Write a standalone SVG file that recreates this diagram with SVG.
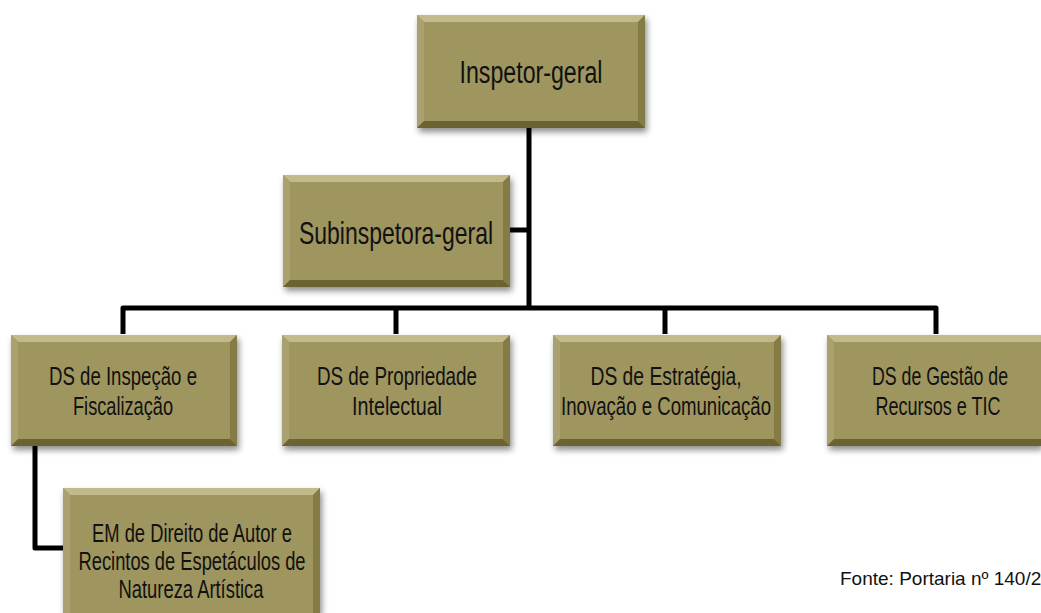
<svg xmlns="http://www.w3.org/2000/svg" width="1041" height="613" viewBox="0 0 1041 613">
<style>
.face{fill:#9e955f}
.bt{fill:#c2b98c}
.bl{fill:#aba170}
.br{fill:#857b45}
.bb{fill:#6c6333}
.lbl{font-family:"Liberation Sans",Arial,sans-serif;fill:#111;text-anchor:middle}
.conn{fill:none;stroke:#000;stroke-width:5;stroke-linejoin:round;stroke-linecap:butt}
</style>
<defs>
<filter id="sh" x="-10%" y="-10%" width="130%" height="140%">
<feDropShadow dx="2" dy="4" stdDeviation="3" flood-color="#000" flood-opacity="0.45"/>
</filter>
</defs>
<rect width="1041" height="613" fill="#fff"/>
<g id="connectors">
<path class="conn" d="M529 128V308" stroke-width="7"/>
<path class="conn" d="M510 230H529"/>
<path class="conn" d="M123 334V308H936V334"/>
<path class="conn" d="M396 308V334"/>
<path class="conn" d="M665 308V334"/>
<path class="conn" d="M35 446V548H63"/>
</g>
<g id="n-inspetor">
<g filter="url(#sh)">
<rect class="face" x="417" y="15" width="228" height="113"/>
<polygon class="bt" points="417,15 645,15 638,22 424,22"/>
<polygon class="bl" points="417,15 424,22 424,121 417,128"/>
<polygon class="br" points="645,15 645,128 638,121 638,22"/>
<polygon class="bb" points="417,128 645,128 638,121 424,121"/>
</g>
<text class="lbl" x="531" y="83" font-size="31" textLength="143" lengthAdjust="spacingAndGlyphs">Inspetor-geral</text>
</g>
<g id="n-subinspetora">
<g filter="url(#sh)">
<rect class="face" x="283" y="175" width="227" height="112"/>
<polygon class="bt" points="283,175 510,175 503,182 290,182"/>
<polygon class="bl" points="283,175 290,182 290,280 283,287"/>
<polygon class="br" points="510,175 510,287 503,280 503,182"/>
<polygon class="bb" points="283,287 510,287 503,280 290,280"/>
</g>
<text class="lbl" x="396" y="244" font-size="32" textLength="194" lengthAdjust="spacingAndGlyphs">Subinspetora-geral</text>
</g>
<g id="n-ds1">
<g filter="url(#sh)">
<rect class="face" x="11" y="335" width="226" height="111"/>
<polygon class="bt" points="11,335 237,335 230,342 18,342"/>
<polygon class="bl" points="11,335 18,342 18,439 11,446"/>
<polygon class="br" points="237,335 237,446 230,439 230,342"/>
<polygon class="bb" points="11,446 237,446 230,439 18,439"/>
</g>
<text class="lbl" x="123" y="385" font-size="26" textLength="148" lengthAdjust="spacingAndGlyphs">DS de Inspeção e</text>
<text class="lbl" x="123" y="415" font-size="26" textLength="100" lengthAdjust="spacingAndGlyphs">Fiscalização</text>
</g>
<g id="n-ds2">
<g filter="url(#sh)">
<rect class="face" x="282" y="335" width="228" height="111"/>
<polygon class="bt" points="282,335 510,335 503,342 289,342"/>
<polygon class="bl" points="282,335 289,342 289,439 282,446"/>
<polygon class="br" points="510,335 510,446 503,439 503,342"/>
<polygon class="bb" points="282,446 510,446 503,439 289,439"/>
</g>
<text class="lbl" x="397" y="385" font-size="26" textLength="160" lengthAdjust="spacingAndGlyphs">DS de Propriedade</text>
<text class="lbl" x="397" y="415" font-size="26" textLength="90" lengthAdjust="spacingAndGlyphs">Intelectual</text>
</g>
<g id="n-ds3">
<g filter="url(#sh)">
<rect class="face" x="553" y="335" width="228" height="111"/>
<polygon class="bt" points="553,335 781,335 774,342 560,342"/>
<polygon class="bl" points="553,335 560,342 560,439 553,446"/>
<polygon class="br" points="781,335 781,446 774,439 774,342"/>
<polygon class="bb" points="553,446 781,446 774,439 560,439"/>
</g>
<text class="lbl" x="666" y="385" font-size="26" textLength="151" lengthAdjust="spacingAndGlyphs">DS de Estratégia,</text>
<text class="lbl" x="666" y="415" font-size="26" textLength="210" lengthAdjust="spacingAndGlyphs">Inovação e Comunicação</text>
</g>
<g id="n-ds4">
<g filter="url(#sh)">
<rect class="face" x="827" y="335" width="214" height="111"/>
<polygon class="bt" points="827,335 1041,335 1041,342 834,342"/>
<polygon class="bl" points="827,335 834,342 834,439 827,446"/>
<polygon class="bb" points="827,446 1041,446 1041,439 834,439"/>
</g>
<text class="lbl" x="940" y="385" font-size="26" textLength="136" lengthAdjust="spacingAndGlyphs">DS de Gestão de</text>
<text class="lbl" x="938" y="415" font-size="26" textLength="125" lengthAdjust="spacingAndGlyphs">Recursos e TIC</text>
</g>
<g id="n-em">
<g filter="url(#sh)">
<rect class="face" x="63" y="488" width="257" height="125"/>
<polygon class="bt" points="63,488 320,488 313,495 70,495"/>
<polygon class="bl" points="63,488 70,495 70,613 63,613"/>
<polygon class="br" points="320,488 320,613 313,613 313,495"/>
</g>
<text class="lbl" x="192" y="542" font-size="25" textLength="200" lengthAdjust="spacingAndGlyphs">EM de Direito de Autor e</text>
<text class="lbl" x="192" y="570" font-size="25" textLength="227" lengthAdjust="spacingAndGlyphs">Recintos de Espetáculos de</text>
<text class="lbl" x="191" y="598" font-size="25" textLength="145" lengthAdjust="spacingAndGlyphs">Natureza Artística</text>
</g>
<text x="840" y="585" font-family="Liberation Sans, Arial, sans-serif" font-size="19" fill="#111">Fonte: Portaria nº 140/2</text>
</svg>
